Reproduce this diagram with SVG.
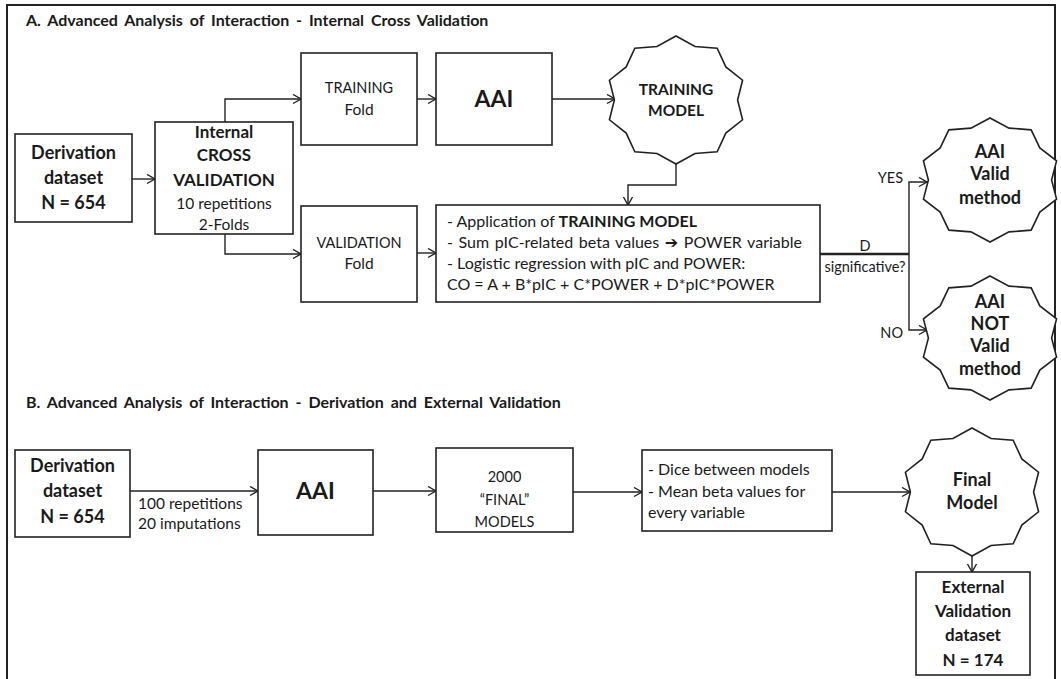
<svg xmlns="http://www.w3.org/2000/svg" xmlns:xlink="http://www.w3.org/1999/xlink" width="1061" height="679" viewBox="0 0 1061 679">
<style>
.box{fill:#fff;stroke:#222;stroke-width:1.6}
.ln{fill:none;stroke:#222;stroke-width:1.4}
.star{fill:#fff;stroke:#222;stroke-width:1.6;vector-effect:non-scaling-stroke}
text{font-family:Lato,"Open Sans","DejaVu Sans",sans-serif;fill:#1a1a1a}
.c{text-anchor:middle}
.e{text-anchor:end}
.b{font-weight:bold}
.ttl{font-weight:bold;font-size:16px;word-spacing:3px}
.big{font-weight:bold;font-size:18px}
.bb{font-weight:bold;font-size:17px}
.sb{font-weight:bold;font-size:18px}
.r15{font-size:15.5px}
.r16{font-size:16px}
.r14{font-size:14.5px}
.aai{font-weight:bold;font-size:23px}
</style>
<defs>
<marker id="ah" markerUnits="userSpaceOnUse" markerWidth="12" markerHeight="12" refX="9" refY="5" orient="auto">
<path d="M1,0.5 L9,5 L1,9.5" fill="none" stroke="#222" stroke-width="1.4"/>
</marker>
<polygon id="star10" class="star" points="0,-1 0.272,-0.837 0.588,-0.809 0.712,-0.517 0.951,-0.309 0.88,0 0.951,0.309 0.712,0.517 0.588,0.809 0.272,0.837 0,1 -0.272,0.837 -0.588,0.809 -0.712,0.517 -0.951,0.309 -0.88,0 -0.951,-0.309 -0.712,-0.517 -0.588,-0.809 -0.272,-0.837"/>
</defs>
<rect width="1061" height="679" fill="#fff"/>
<path d="M7,679 V5 H1055 V679" fill="none" stroke="#222" stroke-width="2"/>

<text class="ttl" x="26" y="26">A. Advanced Analysis of Interaction  - Internal Cross Validation</text>
<text class="ttl" x="26" y="408">B. Advanced Analysis of Interaction  - Derivation and External Validation</text>

<g id="connectors">
<path class="ln" d="M132,179 H155" marker-end="url(#ah)"/>
<path class="ln" d="M225,122 V99 H301" marker-end="url(#ah)"/>
<path class="ln" d="M225,234 V254 H301" marker-end="url(#ah)"/>
<path class="ln" d="M417,99 H436" marker-end="url(#ah)"/>
<path class="ln" d="M552,99 H615" marker-end="url(#ah)"/>
<path class="ln" d="M676,164 V185 H628 V205" marker-end="url(#ah)"/>
<path class="ln" d="M417,253 H436" marker-end="url(#ah)"/>
<path d="M820,254 H909" fill="none" stroke="#222" stroke-width="2.4"/>
<path class="ln" d="M909,254 V182 H927" marker-end="url(#ah)"/>
<path class="ln" d="M909,254 V330 H927" marker-end="url(#ah)"/>
<path class="ln" d="M130,491 H258" marker-end="url(#ah)"/>
<path class="ln" d="M373,491 H436" marker-end="url(#ah)"/>
<path class="ln" d="M573,492 H642" marker-end="url(#ah)"/>
<path class="ln" d="M832,492 H910" marker-end="url(#ah)"/>
<path class="ln" d="M972,556 V572" marker-end="url(#ah)"/>
<text class="r14 c" x="865" y="251">D</text>
<text class="r14 c" x="865" y="272">significative?</text>
<text class="r14 e" x="903" y="183">YES</text>
<text class="r14 e" x="903" y="338">NO</text>
<text class="r15" x="138" y="509">100 repetitions</text>
<text class="r15" x="138" y="529">20 imputations</text>
</g>

<g id="derivA">
<rect class="box" x="15" y="134" width="117" height="88"/>
<text class="big c" x="73.5" y="159">Derivation</text>
<text class="big c" x="73.5" y="184">dataset</text>
<text class="big c" x="73.5" y="209">N = 654</text>
</g>

<g id="internalCV">
<rect class="box" x="155" y="122" width="138" height="112"/>
<text class="bb c" x="224" y="138">Internal</text>
<text class="bb c" x="224" y="161">CROSS</text>
<text class="bb c" x="224" y="186">VALIDATION</text>
<text class="r15 c" x="224" y="209">10 repetitions</text>
<text class="r15 c" x="224" y="230">2-Folds</text>
</g>

<g id="trainingFold">
<rect class="box" x="301" y="53" width="116" height="92"/>
<text class="r14 c" x="359" y="93">TRAINING</text>
<text class="r15 c" x="359" y="115">Fold</text>
</g>

<g id="aaiA">
<rect class="box" x="436" y="53" width="116" height="92"/>
<text class="aai c" x="494" y="107">AAI</text>
</g>

<g id="trainingModel">
<use xlink:href="#star10" transform="translate(676,100) scale(70,64)"/>
<text class="bb c" x="676" y="95" style="font-size:15.5px">TRAINING</text>
<text class="bb c" x="676" y="116" style="font-size:15.5px">MODEL</text>
</g>

<g id="validationFold">
<rect class="box" x="301" y="206" width="116" height="96"/>
<text class="r14 c" x="359" y="248">VALIDATION</text>
<text class="r15 c" x="359" y="269">Fold</text>
</g>

<g id="application">
<rect class="box" x="436" y="205" width="384" height="97"/>
<text class="r16" x="447" y="227">- Application of <tspan class="b">TRAINING MODEL</tspan></text>
<text class="r16" x="447" y="248" style="word-spacing:1.5px">- Sum pIC-related beta values <tspan class="b">➔</tspan> POWER variable</text>
<text class="r16" x="447" y="269">- Logistic regression with pIC and POWER:</text>
<text class="r16" x="447" y="290">CO = A + B*pIC + C*POWER + D*pIC*POWER</text>
</g>

<g id="aaiValid">
<use xlink:href="#star10" transform="translate(990,180) scale(70,62)"/>
<text class="sb c" x="990" y="158">AAI</text>
<text class="sb c" x="990" y="180">Valid</text>
<text class="sb c" x="990" y="204">method</text>
</g>

<g id="aaiNotValid">
<use xlink:href="#star10" transform="translate(990,338) scale(70,62)"/>
<text class="sb c" x="990" y="308">AAI</text>
<text class="sb c" x="990" y="330">NOT</text>
<text class="sb c" x="990" y="352">Valid</text>
<text class="sb c" x="990" y="375">method</text>
</g>

<g id="derivB">
<rect class="box" x="15" y="450" width="115" height="87"/>
<text class="big c" x="72.5" y="472">Derivation</text>
<text class="big c" x="72.5" y="497">dataset</text>
<text class="big c" x="72.5" y="523">N = 654</text>
</g>

<g id="aaiB">
<rect class="box" x="258" y="450" width="115" height="85"/>
<text class="aai c" x="315.5" y="499">AAI</text>
</g>

<g id="finalModels">
<rect class="box" x="436" y="448" width="137" height="84"/>
<text class="r14 c" x="504.5" y="482">2000</text>
<text class="r14 c" x="504.5" y="505">“FINAL”</text>
<text class="r14 c" x="504.5" y="527">MODELS</text>
</g>

<g id="dice">
<rect class="box" x="642" y="450" width="190" height="81"/>
<text class="r16" x="648" y="475">- Dice between models</text>
<text class="r16" x="648" y="497">- Mean beta values for</text>
<text class="r16" x="648" y="518">every variable</text>
</g>

<g id="finalModel">
<use xlink:href="#star10" transform="translate(972,492) scale(70,64)"/>
<text class="sb c" x="972" y="486">Final</text>
<text class="sb c" x="972" y="509">Model</text>
</g>

<g id="external">
<rect class="box" x="916" y="572" width="114" height="103"/>
<text class="bb c" x="973" y="593">External</text>
<text class="bb c" x="973" y="617">Validation</text>
<text class="bb c" x="973" y="641">dataset</text>
<text class="bb c" x="973" y="666">N = 174</text>
</g>
</svg>
